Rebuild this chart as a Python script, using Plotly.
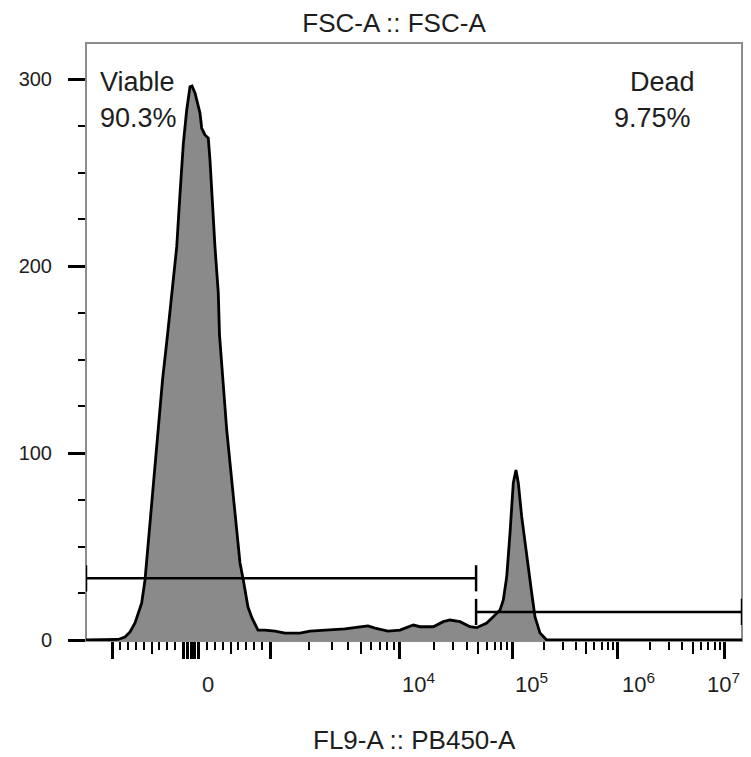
import numpy as np
import plotly.graph_objects as go

# ---------------- data ----------------
# Histogram: display channel (0-1024 across the full axis) and cell count
HIST_CHANNEL = [0.0, 37.0, 49.4, 60.1, 67.9, 75.6, 85.9, 91.0, 97.6, 104.1, 111.0, 118.0,
                125.7, 132.2, 139.9, 145.0, 150.1, 155.3, 160.4, 163.5, 168.1, 175.8, 178.4,
                183.5, 188.6, 191.2, 193.8, 198.9, 204.0, 205.9, 217.0, 227.2, 237.5, 242.6,
                249.8, 256.0, 265.3, 276.1, 291.5, 306.9, 330.0, 345.5, 376.3, 399.4, 422.6,
                434.9, 445.7, 465.7, 484.2, 504.8, 515.1, 535.6, 551.0, 561.4, 576.8, 592.2,
                602.5, 618.0, 627.7, 638.5, 643.6, 648.8, 653.9, 659.0, 663.1, 666.7, 672.0,
                677.0, 682.1, 687.4, 692.5, 700.2, 710.5, 1024.0]
HIST_COUNT = [0.0, 0.0, 0.3, 1.6, 4.3, 9.1, 19.8, 32.1, 58.8, 85.6, 112.3, 139.0,
              163.1, 185.6, 210.2, 238.8, 265.5, 283.4, 295.9, 296.3, 292.5, 281.8, 273.8,
              270.1, 268.4, 256.7, 239.0, 210.2, 185.6, 163.1, 112.3, 76.5, 41.2, 32.1,
              17.6, 11.8, 5.3, 5.3, 4.8, 3.7, 3.7, 4.8, 5.3, 5.9, 7.0,
              7.5, 6.4, 4.8, 5.3, 8.0, 7.1, 7.1, 9.8, 10.7, 9.8, 7.1,
              6.6, 9.1, 12.3, 16.0, 21.4, 33.7, 57.2, 84.0, 90.9, 84.0, 65.8,
              51.9, 39.0, 25.1, 12.3, 3.7, 0.0, 0.0]

# x scale (biexponential display): anchors
ZERO_CHANNEL = 162.0
LINEAR_SPAN = 121.8          # channels per 1000 units around zero
SCALE_DECADES = [3, 4, 5, 6, 7]
SCALE_CHANNELS = [283.8, 484.2, 657.0, 820.4, 985.4]
X_RANGE = [0, 1011.7]        # visible part of the 0-1024 channel axis

# ticks
X_MAJOR_VALUES = [-1000, -100, -50, 0, 50, 100, 1000, 1e4, 1e5, 1e6, 1e7]
X_MEDIUM_VALUES = [-500, 500, 5e3, 5e4, 5e5, 5e6]
X_MINOR_VALUES = ([-900, -800, -700, -600, -400, -300, -200,
                   200, 300, 400, 600, 700, 800, 900] +
                  [m * 10 ** d for d in (3, 4, 5, 6) for m in (2, 3, 4, 6, 7, 8, 9)])
X_LABEL_VALUES = [0, 1e4, 1e5, 1e6, 1e7]
X_LABEL_TEXT = ["0", "10<sup>4</sup>", "10<sup>5</sup>", "10<sup>6</sup>", "10<sup>7</sup>"]
X_LABEL_SHIFT = [9, 0, 1, 2, -20]

Y_TICK_VALUES = [0, 100, 200, 300]
Y_TICK_TEXT = ["0", "100", "200", "300"]
Y_RANGE = [-0.53, 319.25]

# gates
GATE_NAMES = ["Viable", "Dead"]
GATE_PERCENT = ["90.3%", "9.75%"]
GATE_LOW = [None, 4.78e4]
GATE_HIGH = [4.78e4, None]
GATE_LEVEL = [33, 15]
GATE_BAR = 7

TITLE = "FSC-A :: FSC-A"
X_TITLE = "FL9-A :: PB450-A"


def fwd(v):
    """value -> display channel"""
    v = float(v)
    if v <= 1000:
        return ZERO_CHANNEL + v / 1000.0 * LINEAR_SPAN
    return float(np.interp(np.log10(v), SCALE_DECADES, SCALE_CHANNELS))


FONT = "Liberation Sans, Arial, Helvetica, sans-serif"
TXT = "#1e1e1e"
PAGE_OFFSET = 8            # default body margin of the html page
W, H = 751 - PAGE_OFFSET, 757 - PAGE_OFFSET
PLOT_LEFT, PLOT_RIGHT, PLOT_TOP, PLOT_BOTTOM = 86, 742, 43, 641   # page pixels
PW = PLOT_RIGHT - PLOT_LEFT
PH = PLOT_BOTTOM - PLOT_TOP


def px_x(px):
    return (px - PLOT_LEFT) / PW


def px_y(py):
    return (PLOT_BOTTOM - py) / PH


fig = go.Figure()

# histogram
fig.add_trace(go.Scatter(
    x=HIST_CHANNEL, y=HIST_COUNT, mode="lines", fill="tozeroy",
    fillcolor="#8a8a8a", line=dict(color="black", width=2.8),
    hoverinfo="skip", showlegend=False))

# gates
for lo, hi, lvl in zip(GATE_LOW, GATE_HIGH, GATE_LEVEL):
    x0 = X_RANGE[0] if lo is None else fwd(lo)
    x1 = X_RANGE[1] if hi is None else fwd(hi)
    fig.add_trace(go.Scatter(
        x=[x0, x0, None, x0, x1, None, x1, x1],
        y=[lvl - GATE_BAR, lvl + GATE_BAR, None, lvl, lvl, None, lvl - GATE_BAR, lvl + GATE_BAR],
        mode="lines", line=dict(color="black", width=2.5),
        hoverinfo="skip", showlegend=False))

# dummy trace to carry the medium-tick overlay axis
fig.add_trace(go.Scatter(x=[fwd(v) for v in X_MEDIUM_VALUES], y=[None] * len(X_MEDIUM_VALUES),
                         xaxis="x2", mode="lines", showlegend=False, hoverinfo="skip"))

annotations = []
for v, t, s in zip(X_LABEL_VALUES, X_LABEL_TEXT, X_LABEL_SHIFT):
    annotations.append(dict(x=fwd(v), xref="x", y=px_y(699), yref="paper", text=t,
                            showarrow=False, xanchor="left", yanchor="bottom", xshift=s,
                            font=dict(family=FONT, size=22, color=TXT)))

# gate labels
annotations += [
    dict(x=px_x(98), y=px_y(82), xref="paper", yref="paper", text=GATE_NAMES[0],
         showarrow=False, xanchor="left", yanchor="middle",
         font=dict(family=FONT, size=27, color=TXT)),
    dict(x=px_x(98), y=px_y(118), xref="paper", yref="paper", text=GATE_PERCENT[0],
         showarrow=False, xanchor="left", yanchor="middle",
         font=dict(family=FONT, size=27, color=TXT)),
    dict(x=px_x(697), y=px_y(82), xref="paper", yref="paper", text=GATE_NAMES[1],
         showarrow=False, xanchor="right", yanchor="middle",
         font=dict(family=FONT, size=27, color=TXT)),
    dict(x=px_x(693), y=px_y(118), xref="paper", yref="paper", text=GATE_PERCENT[1],
         showarrow=False, xanchor="right", yanchor="middle",
         font=dict(family=FONT, size=27, color=TXT)),
    dict(x=px_x(415), y=px_y(740), xref="paper", yref="paper", text=X_TITLE,
         showarrow=False, xanchor="center", yanchor="middle",
         font=dict(family=FONT, size=26, color=TXT)),
]

fig.update_layout(
    width=W, height=H,
    margin=dict(l=PLOT_LEFT - PAGE_OFFSET, r=PAGE_OFFSET + W - PLOT_RIGHT,
                t=PLOT_TOP - PAGE_OFFSET, b=PAGE_OFFSET + H - PLOT_BOTTOM),
    paper_bgcolor="white", plot_bgcolor="white",
    title=dict(text=TITLE, x=(394 - PAGE_OFFSET) / W, xref="container", xanchor="center",
               y=1 - (23 - PAGE_OFFSET) / H, yref="container", yanchor="middle",
               font=dict(family=FONT, size=26, color=TXT)),
    xaxis=dict(range=X_RANGE, tickmode="array", tickvals=[fwd(v) for v in X_MAJOR_VALUES],
               showticklabels=False, ticks="outside", ticklen=17, tickwidth=3, tickcolor="black",
               minor=dict(tickmode="array", tickvals=[fwd(v) for v in X_MINOR_VALUES],
                          ticks="outside", ticklen=8, tickwidth=1.5, tickcolor="black"),
               showgrid=False, zeroline=False, showline=False, fixedrange=True),
    xaxis2=dict(range=X_RANGE, overlaying="x", anchor="y", side="bottom", tickmode="array",
                tickvals=[fwd(v) for v in X_MEDIUM_VALUES], showticklabels=False,
                ticks="outside", ticklen=12, tickwidth=2, tickcolor="black",
                showgrid=False, zeroline=False, showline=False),
    yaxis=dict(range=Y_RANGE, tickmode="array", tickvals=Y_TICK_VALUES, ticktext=Y_TICK_TEXT,
               ticks="outside", ticklen=17, tickwidth=3, tickcolor="black",
               ticklabelstandoff=12,
               tickfont=dict(family=FONT, size=20, color=TXT),
               minor=dict(tickmode="linear", tick0=0, dtick=25, ticks="outside",
                          ticklen=7, tickwidth=2, tickcolor="black"),
               showgrid=False, zeroline=False, showline=False),
    shapes=[dict(type="rect", xref="paper", yref="paper", x0=0, x1=1, y0=0, y1=1,
                 line=dict(color="#8c8c8c", width=2), layer="below")],
    annotations=annotations,
)

fig.write_html("out.html")
